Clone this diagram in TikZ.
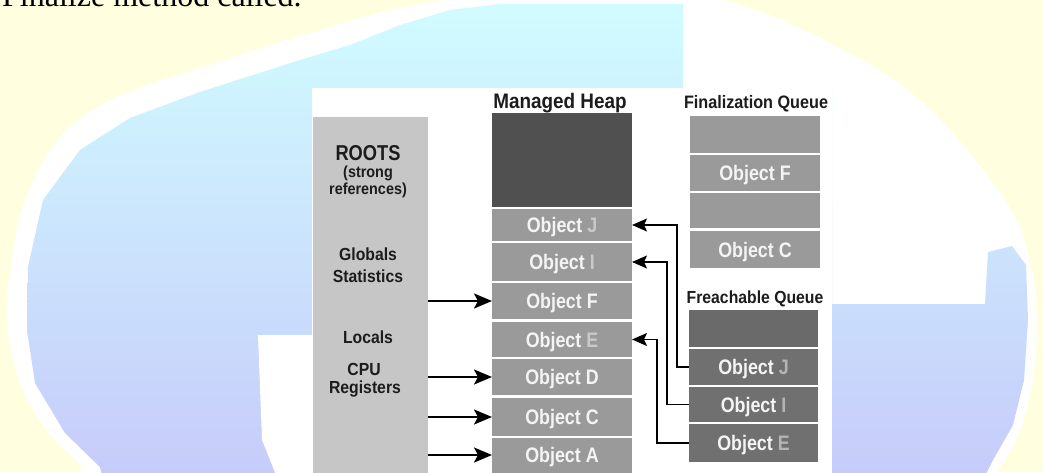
\documentclass[tikz,border=0pt]{standalone}
\usepackage{fontspec}
\newfontfamily\cf[FakeStretch=0.9]{Liberation Sans}
\newfontfamily\cfn[FakeStretch=0.85]{Liberation Sans}
\newfontfamily\tnr{Liberation Serif}
\usetikzlibrary{arrows.meta}
\definecolor{bgyellow}{HTML}{FFFFE0}
\definecolor{globecyan}{HTML}{D0FCFF}
\definecolor{globemid}{HTML}{CDE4FF}
\definecolor{globeblue}{HTML}{C6CAFA}
\definecolor{rootgray}{HTML}{C6C6C6}
\definecolor{heapdark}{HTML}{505050}
\definecolor{heapgray}{HTML}{9A9A9A}
\definecolor{freadark}{HTML}{6A6A6A}
\definecolor{freagray}{HTML}{707070}
\definecolor{objtext}{HTML}{F4F4F4}
\definecolor{fadeA}{HTML}{C9C9C9}
\definecolor{fadeB}{HTML}{B4B4B4}
\definecolor{labeltext}{HTML}{1C1C1C}
\begin{document}
\begin{tikzpicture}[x=1pt,y=-1pt,
  box/.style={rectangle, inner sep=0pt, outer sep=0pt, draw=none,
    font=\cfn\bfseries\fontsize{21}{21}\selectfont, text=objtext,
    text height=15pt, text depth=0pt},
  heapobj/.style={box, fill=heapgray, minimum width=140pt},
  finobj/.style={box, fill=heapgray, minimum width=130pt},
  freaobj/.style={box, fill=freagray, minimum width=129pt},
  rootlbl/.style={anchor=base, inner sep=0pt, text=labeltext,
    font=\cf\bfseries\fontsize{17.5}{17.5}\selectfont},
  header/.style={anchor=base, inner sep=0pt, text=labeltext},
  ra/.style={line width=2.3pt, -{Stealth[length=18pt,width=15pt,inset=4pt]}},
  fb/.style={line width=1.5pt, -{Stealth[length=15pt,width=13pt,inset=3pt]}}
]
\clip (0,0) rectangle (1043,472);
% background
\fill[bgyellow] (0,0) rectangle (1043,472);
% globe (white rim and continents)
\fill[white] plot[smooth cycle, tension=0.6] coordinates {(117,97) (200,68) (300,36) (400,8) (500,-6) (600,-8) (720,0) (820,38) (920,100) (1005,200) (1030,262) (1037,322) (1032,385) (1018,435) (995,475) (960,520) (540,560) (110,510) (80,465) (48,432) (20,383) (7,322) (11,265) (25,200) (62,135)};
% globe oceans
\shade[top color=globecyan, middle color=globemid, bottom color=globeblue]
  (683,4) -- (683,88) -- (832,88) -- (832,304) -- (985,304) -- (988,252)
  -- (1012,246) -- (1026,265) -- (1028,320)
  -- (1024,380) -- (1013,425) -- (993,460) -- (978,490) -- (105,490)
  -- (100,467) -- (65,433) -- (35,383) -- (27,330) -- (28,267) -- (43,200)
  -- (80,150) -- (130,118) -- (200,92) -- (250,76) -- (300,60) -- (350,45)
  -- (400,25) -- (450,10) -- (500,4) -- cycle;
\fill[white] (258,335) -- (320,335) -- (320,480) -- (278,480) -- (262,440) -- cycle;
% top text
\node[anchor=base west, inner sep=0pt, font=\tnr\fontsize{32}{32}\selectfont] (title) at (2,6.5) {Finalize method called.};
% panel
\fill[white] (312,88) rectangle (832,480);
% roots
\node[rectangle, fill=rootgray, inner sep=0pt, minimum width=115pt, minimum height=363pt] (roots) at (370.5,298.5) {};
\node[rootlbl, font=\cfn\bfseries\fontsize{21.5}{21.5}\selectfont] (rootsT) at (368,160) {ROOTS};
\node[rootlbl, font=\cf\bfseries\fontsize{16}{16}\selectfont] (strong) at (368,177) {(strong};
\node[rootlbl, font=\cf\bfseries\fontsize{16}{16}\selectfont] (refs) at (368,194) {references)};
\node[rootlbl] (globals) at (368,260) {Globals};
\node[rootlbl] (stats) at (368,282) {Statistics};
\node[rootlbl] (locals) at (368,343) {Locals};
\node[rootlbl] (cpu) at (364,375) {CPU};
\node[rootlbl] (regs) at (365,393) {Registers};
% headers
\node[header, font=\cf\bfseries\fontsize{21}{21}\selectfont] (mh) at (560,108) {Managed Heap};
\node[header, font=\cf\bfseries\fontsize{18}{18}\selectfont] (fq) at (756,108) {Finalization Queue};
\node[header, font=\cf\bfseries\fontsize{17.5}{17.5}\selectfont] (frq) at (755,303) {Freachable Queue};
% managed heap
\node[heapobj, fill=heapdark, minimum height=94pt] (hTop) at (562,160) {};
\node[heapobj, minimum height=32pt] (hJ) at (562,225) {Object \textcolor{fadeA}{J}};
\node[heapobj, minimum height=38pt] (hI) at (562,262) {Object \textcolor{fadeA}{I}};
\node[heapobj, minimum height=36pt] (hF) at (562,301) {Object F};
\node[heapobj, minimum height=35pt] (hE) at (562,339.5) {Object \textcolor{fadeA}{E}};
\node[heapobj, minimum height=36pt] (hD) at (562,377) {Object D};
\node[heapobj, minimum height=38pt] (hC) at (562,417) {Object C};
\node[heapobj, minimum height=34pt] (hA) at (562,455) {Object A};
\fill[heapgray] (hA.south west) rectangle ([yshift=-20pt]hA.south east);
% finalization queue
\node[finobj, minimum height=37pt] (q1) at (755,134.5) {};
\node[finobj, minimum height=36pt] (qF) at (755,173) {Object F};
\node[finobj, minimum height=35pt] (q3) at (755,210.5) {};
\node[finobj, minimum height=37pt] (qC) at (755,249.5) {Object C};
% freachable queue
\node[freaobj, fill=freadark, minimum height=37pt] (r1) at (753.5,328.5) {};
\node[freaobj, minimum height=36pt] (rJ) at (753.5,367) {Object \textcolor{fadeB}{J}};
\node[freaobj, minimum height=35pt] (rI) at (753.5,404.5) {Object \textcolor{fadeB}{I}};
\node[freaobj, minimum height=38pt] (rE) at (753.5,443) {Object \textcolor{fadeB}{E}};
% root arrows
\draw[ra] (roots.east |- hF.west) -- (hF.west);
\draw[ra] (roots.east |- hD.west) -- (hD.west);
\draw[ra] (roots.east |- hC.west) -- (hC.west);
\draw[ra] (roots.east |- hA.west) -- (hA.west);
% freachable to heap
\draw[fb] (rJ.west) -- ++(-12,0) |- (hJ.east);
\draw[fb] (rI.west) -- ++(-22,0) |- (hI.east);
\draw[fb] (rE.west) -- ++(-32,0) |- (hE.east);
\end{tikzpicture}
\end{document}
